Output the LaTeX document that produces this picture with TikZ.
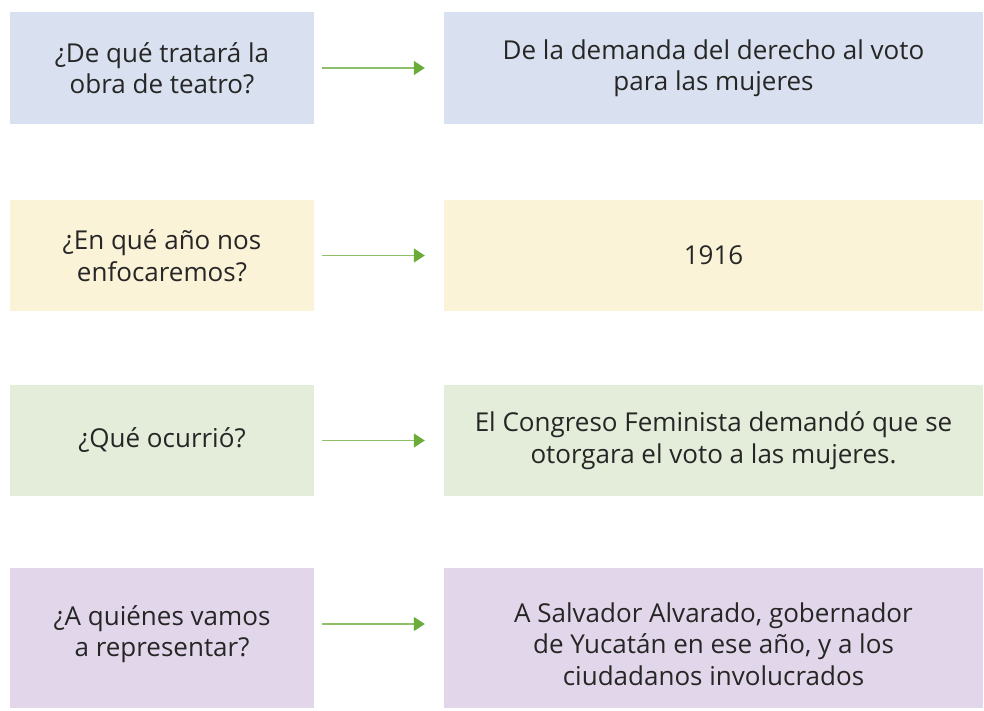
\documentclass[tikz,border=0pt]{standalone}
\usepackage{fontspec}
\setmainfont{Open Sans}
\usetikzlibrary{arrows.meta}
\definecolor{cblue}{HTML}{D9E0EF}
\definecolor{cyellow}{HTML}{FBF3D8}
\definecolor{cgreen}{HTML}{E3EDD9}
\definecolor{cpurple}{HTML}{E2D7EA}
\definecolor{cline}{HTML}{8DBF6A}
\definecolor{chead}{HTML}{6AAC3A}
\definecolor{ctext}{HTML}{262626}
\tikzset{
  box/.style={rectangle, inner sep=0pt, align=center, text=ctext,
    font=\fontsize{26}{31.5}\selectfont},
  lbox/.style={box, minimum width=304pt},
  rbox/.style={box, minimum width=539pt},
  arr/.style={draw=cline, line width=1.4pt, shorten <=8pt, shorten >=19pt,
    -{Triangle[length=11pt,width=14pt,color=chead]}}
}
\begin{document}
\begin{tikzpicture}[x=1pt,y=-1pt]
\useasboundingbox (0,0) rectangle (984,710);
% row 1
\node[lbox, fill=cblue, minimum height=112pt] (l1) at (162,68) {¿De qué tratará la\\obra de teatro?};
\node[rbox, fill=cblue, minimum height=112pt] (r1) at (713.5,68) {De la demanda del derecho al voto\\para las mujeres};
% row 2
\node[lbox, fill=cyellow, minimum height=111pt] (l2) at (162,255.5) {¿En qué año nos\\enfocaremos?};
\node[rbox, fill=cyellow, minimum height=111pt] (r2) at (713.5,255.5) {1916};
% row 3
\node[lbox, fill=cgreen, minimum height=111pt] (l3) at (162,440.5) {¿Qué ocurrió?};
\node[rbox, fill=cgreen, minimum height=111pt] (r3) at (713.5,440.5) {El Congreso Feminista demandó que se\\otorgara el voto a las mujeres.};
% row 4
\node[lbox, fill=cpurple, minimum height=140pt] (l4) at (162,638) {};
\node[box] (t4) at (162,634) {¿A quiénes vamos\\a representar?};
\node[rbox, fill=cpurple, minimum height=140pt] (r4) at (713.5,638) {};
\node[box] (u4) at (713.5,644) {A Salvador Alvarado, gobernador\\de Yucatán en ese año, y a los\\ciudadanos involucrados};
% arrows
\draw[arr] (l1) -- (r1);
\draw[arr] (l2) -- (r2);
\draw[arr] (l3) -- (r3);
\draw[arr] ([yshift=14pt]l4.east) -- ([yshift=14pt]r4.west);
\end{tikzpicture}
\end{document}
